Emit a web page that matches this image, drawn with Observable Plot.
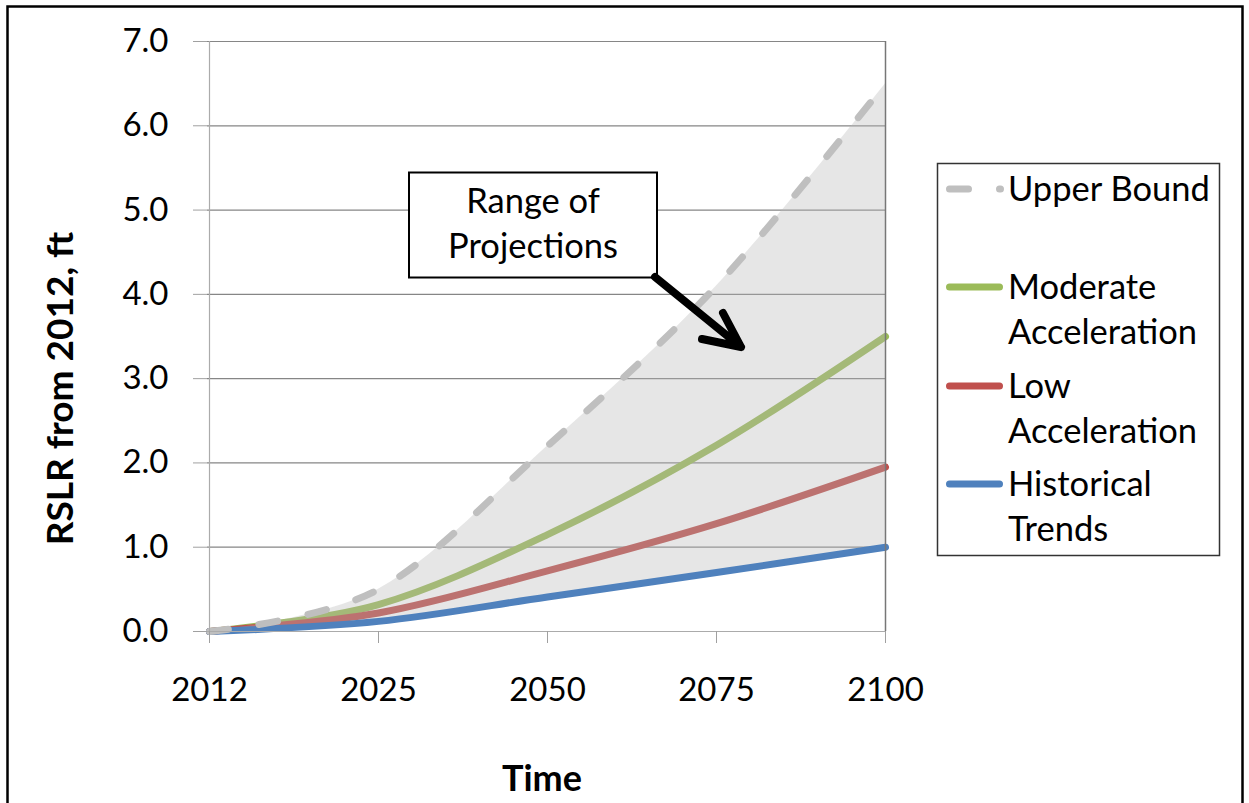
<!DOCTYPE html>
<html>
<head>
<meta charset="utf-8">
<script src="https://cdn.jsdelivr.net/npm/d3@7"></script>
<script src="https://cdn.jsdelivr.net/npm/@observablehq/plot@0.6"></script>
<style>
  html, body { margin: 0; padding: 0; background: #fff; overflow: hidden; }
  #wrap { position: relative; width: 1249px; height: 803px; overflow: hidden; font-family: Lato, "Open Sans", sans-serif; }
  #chart, #overlay { position: absolute; left: 0; top: 0; }
  #overlay { pointer-events: none; }
</style>
</head>
<body>
<div id="wrap">
  <div id="chart"></div>
  <svg id="overlay" width="1249" height="803"></svg>
</div>
<script>
// ---- data ----
const years = [2012, 2025, 2050, 2075, 2100];
const upperBound = [0, 0.5, 2.2, 4.1, 6.5];
const moderateAcceleration = [0, 0.32, 1.15, 2.21, 3.5];
const lowAcceleration = [0, 0.22, 0.72, 1.28, 1.95];
const historicalTrends = [0, 0.12, 0.41, 0.70, 1.0];
const yTicks = [0, 1, 2, 3, 4, 5, 6, 7];
const seriesNames = ["Upper Bound", "Moderate Acceleration", "Low Acceleration", "Historical Trends"];
const legendLines = [["Upper Bound"], ["Moderate", "Acceleration"], ["Low", "Acceleration"], ["Historical", "Trends"]];
const seriesColors = ["#BFBFBF", "#9BBB59", "#C0504D", "#4F81BD"];
const annotationLines = ["Range of", "Projections"];
const yLabel = "RSLR from 2012, ft";
const xLabel = "Time";

const rows = years.map((year, i) => ({
  year,
  upper: upperBound[i],
  moderate: moderateAcceleration[i],
  low: lowAcceleration[i],
  historical: historicalTrends[i]
}));

const lineW = 7;
const dash = "19,31";
const font = "Lato, 'Open Sans', sans-serif";

const chart = Plot.plot({
  width: 1249,
  height: 803,
  marginLeft: 207,
  marginRight: 363,
  marginTop: 41,
  marginBottom: 172,
  style: { fontFamily: font, fontSize: "33px", color: "#000", background: "#fff", overflow: "visible" },
  x: { type: "point", domain: years, padding: 0 },
  y: { domain: [0, 7] },
  marks: [
    Plot.gridY(yTicks, { stroke: "#868686", strokeOpacity: 1, strokeWidth: 1.2 }),
    Plot.line(rows, { x: "year", y: "moderate", stroke: seriesColors[1], strokeWidth: lineW, curve: "cardinal", strokeLinecap: "round" }),
    Plot.line(rows, { x: "year", y: "low", stroke: seriesColors[2], strokeWidth: lineW, curve: "cardinal", strokeLinecap: "round" }),
    Plot.areaY(rows, { x: "year", y1: "historical", y2: "upper", fill: "#B6B6B6", fillOpacity: 0.34, curve: "cardinal" }),
    Plot.line(rows, { x: "year", y: "historical", stroke: seriesColors[3], strokeWidth: lineW, curve: "cardinal", strokeLinecap: "round" }),
    Plot.line(rows, { x: "year", y: "upper", stroke: seriesColors[0], strokeWidth: lineW, curve: "cardinal", strokeLinecap: "round", strokeDasharray: dash }),
    Plot.ruleX([years[0]], { stroke: "#ababab", strokeWidth: 1.2 }),
    Plot.ruleX([years[years.length - 1]], { stroke: "#777", strokeWidth: 1.5 }),
    Plot.ruleY([0], { stroke: "#ababab", strokeWidth: 1.2 }),
    Plot.axisX({ ticks: years, tickSize: 12, tickPadding: 34, stroke: "#a0a0a0", strokeOpacity: 1, fill: "#000", fontSize: 33, tickFormat: d => String(d), label: null }),
    Plot.axisY({ ticks: yTicks, tickSize: 14, tickPadding: 25, stroke: "#a0a0a0", strokeOpacity: 1, fill: "#000", fontSize: 33, tickFormat: d3.format(".1f"), label: null }),
    Plot.text([yLabel], { frameAnchor: "left", textAnchor: "middle", lineAnchor: "middle", rotate: -90, dx: -146, dy: 52, fontWeight: "bold", fontSize: 37, fill: "#000" }),
    Plot.text([xLabel], { frameAnchor: "bottom", textAnchor: "middle", lineAnchor: "middle", dx: -5, dy: 148, fontWeight: "bold", fontSize: 36, fill: "#000" })
  ]
});
document.getElementById("chart").appendChild(chart);

// ---- overlay: border, annotation, legend ----
const ov = d3.select("#overlay");
ov.append("rect").attr("x", 7.5).attr("y", 6.5).attr("width", 1235).attr("height", 900)
  .attr("fill", "none").attr("stroke", "#000").attr("stroke-width", 2.5);

// annotation box
const ann = ov.append("g");
ann.append("rect").attr("x", 409).attr("y", 172.5).attr("width", 248).attr("height", 105)
  .attr("fill", "#fff").attr("stroke", "#000").attr("stroke-width", 2);
ann.selectAll("text").data(annotationLines).join("text")
  .attr("x", 533).attr("y", (d, i) => 213 + i * 45)
  .attr("text-anchor", "middle").attr("font-size", 34.5).attr("font-family", font)
  .attr("fill", "#000").text(d => d);
// arrow
const tip = [741, 347];
ann.append("path")
  .attr("d", `M655,277 L${tip[0]},${tip[1]} M702,339 L${tip[0]},${tip[1]} L723,313`)
  .attr("fill", "none").attr("stroke", "#000").attr("stroke-width", 8)
  .attr("stroke-linecap", "round").attr("stroke-linejoin", "round");

// legend
const lg = ov.append("g");
lg.append("rect").attr("x", 937.5).attr("y", 163.5).attr("width", 282).attr("height", 392)
  .attr("fill", "#fff").attr("stroke", "#333").attr("stroke-width", 1.5);
const swatchY = [189, 287, 386, 484];
seriesNames.forEach((name, i) => {
  const g = lg.append("g");
  g.append("line").attr("x1", 949.5).attr("x2", i === 0 ? 1000.5 : 999.5).attr("y1", swatchY[i]).attr("y2", swatchY[i])
    .attr("stroke", seriesColors[i]).attr("stroke-width", lineW).attr("stroke-linecap", "round")
    .attr("stroke-dasharray", i === 0 ? dash : null);
  g.selectAll("text").data(legendLines[i]).join("text")
    .attr("x", 1008).attr("y", (d, j) => swatchY[i] + 11.5 + j * 45)
    .attr("font-size", 34.5).attr("font-family", font).attr("fill", "#000")
    .text(d => d);
});
</script>
</body>
</html>
